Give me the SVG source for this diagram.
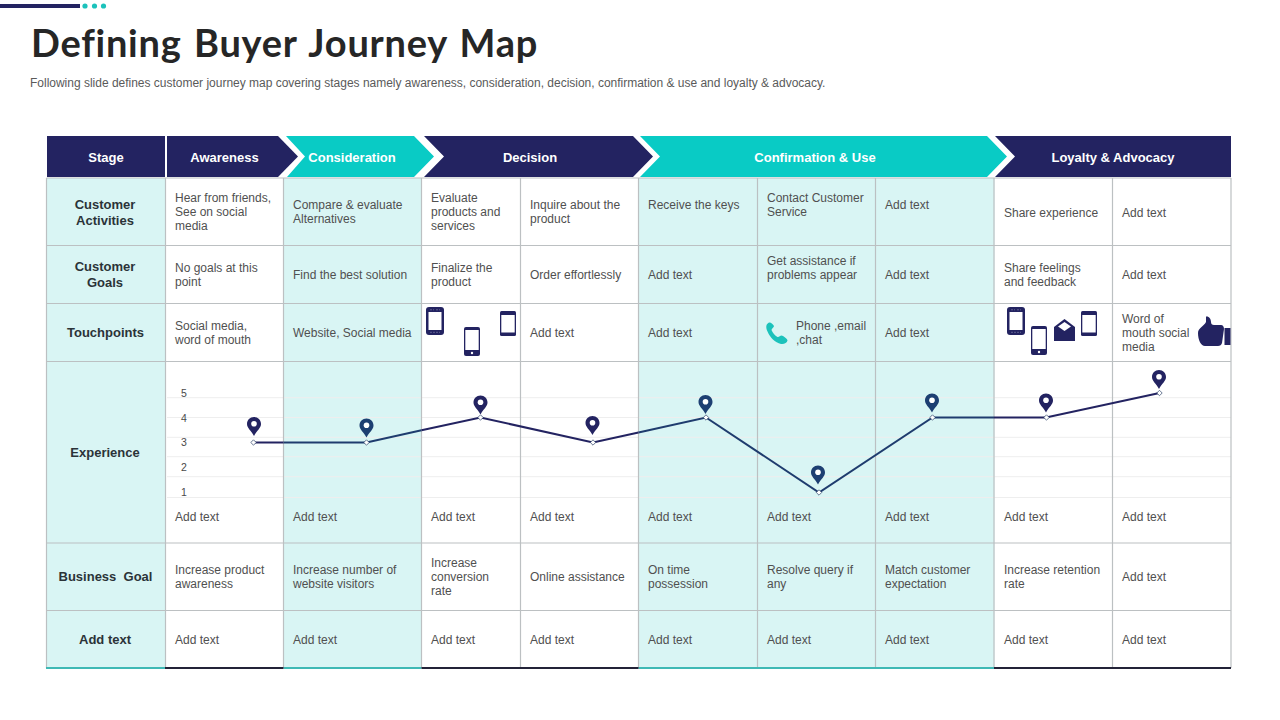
<svg xmlns="http://www.w3.org/2000/svg" width="1280" height="720" viewBox="0 0 1280 720">
<style>
text{font-family:"Liberation Sans",Arial,sans-serif}
.t{font-size:12px;fill:#505050}
.l{font-size:13px;font-weight:bold;fill:#2b3338;text-anchor:middle}
.h{font-size:13px;font-weight:bold;fill:#fff;text-anchor:middle}
.n{font-size:10.5px;fill:#4a4a4a;text-anchor:middle}
.navy{fill:#232361}
.teal{fill:#09cbc5}
.bg{fill:#d9f5f4}
.g{stroke:#bcc0c2;stroke-width:1.2;fill:none}
.gl{stroke:#eeeeee;stroke-width:1;fill:none}
</style>
<defs>
<symbol id="pin" viewBox="0 0 14 19" width="14" height="19" overflow="visible"><path d="M7 0C3 0 0 3 0 7C0 11 4 13.500 7 19C10 13.500 14 11 14 7C14 3 11 0 7 0Z" fill="currentColor"/><circle cx="7" cy="6.800" r="2.800" fill="#fff"/></symbol>
<symbol id="phone1" viewBox="0 0 18 28" width="18" height="28"><rect width="18" height="28" rx="3" fill="#232361"/><rect x="2.500" y="5" width="13" height="18" fill="#fff"/><path d="M4 2.800H8M10 2.800H14M4 25.300H14" stroke="#8a8ab0" stroke-width=".6" stroke-dasharray="2 1"/></symbol>
<symbol id="phone2" viewBox="0 0 16 29" width="16" height="29"><rect width="16" height="29" rx="2" fill="#232361"/><rect x="1.300" y="3" width="13.400" height="20" fill="#fff"/><circle cx="8" cy="26" r="1.200" fill="#fff"/></symbol>
<symbol id="tablet" viewBox="0 0 16 25" width="16" height="25"><rect width="16" height="25" rx="1.500" fill="#232361"/><rect x="1.300" y="4" width="13.400" height="17.500" fill="#fff"/></symbol>
</defs>
<rect width="1280" height="720" fill="#fff"/>
<g id="accent"><rect x="0" y="4" width="80" height="4" class="navy"/><circle cx="85" cy="6" r="2.600" fill="#1cc2bb"/><circle cx="94.500" cy="6" r="2.600" fill="#1cc2bb"/><circle cx="103.500" cy="6" r="2.600" fill="#1cc2bb"/></g>
<g id="title"><text x="31" y="57" style="font-family:'Lato','Liberation Sans',sans-serif;font-size:38px;font-weight:bold;letter-spacing:.75px;word-spacing:2.500px" fill="#262626">Defining Buyer Journey Map</text>
<text x="30" y="87" style="font-size:12px;letter-spacing:-.01px" fill="#5a5a5a">Following slide defines customer journey map covering stages namely awareness, consideration, decision, confirmation &amp; use and loyalty &amp; advocacy.</text></g>

<g id="table-fills">
<rect x="46.500" y="178" width="119" height="490" class="bg"/>
<rect x="283.500" y="178" width="138" height="490" class="bg"/>
<rect x="638.500" y="178" width="356" height="490" class="bg"/>
</g>
<g id="chart-grid">
<path class="gl" d="M167 397.700H1231M167 417.500H1231M167 437.300H1231M167 456.700H1231M167 476.700H1231M167 497.500H1231"/>
</g>
<g id="table-lines">
<path class="g" d="M46.500 178V668M165.500 178V668M283.500 178V668M421.500 178V668M520.500 178V668M638.500 178V668M757.500 178V668M875.500 178V668M994 178V668M1112.500 178V668M1231 178V668"/>
<path class="g" d="M46.500 178H1231M46.500 245.500H1231M46.500 303.500H1231M46.500 361.500H1231M46.500 543H1231M46.500 610.500H1231"/>
<path d="M46 668H165M283.500 668H421.500M638.500 668H994" stroke="#3fb9b5" stroke-width="2" fill="none"/>
<path d="M165 668H283.500M421.500 668H638.500M994 668H1231" stroke="#232338" stroke-width="2" fill="none"/>
</g>

<g id="headers">
<g id="stage-stage"><rect x="47" y="136" width="118" height="41" class="navy"/><text class="h" x="106" y="162">Stage</text></g>
<g id="stage-awareness"><path class="navy" d="M167 136H278L298 156.500L278 177H167Z"/><text class="h" x="224.500" y="162">Awareness</text></g>
<g id="stage-consideration"><path class="teal" d="M286 136H414L434 156.500L414 177H287L305 156.500Z"/><text class="h" x="352" y="162">Consideration</text></g>
<g id="stage-decision"><path class="navy" d="M424 136H633L653 156.500L633 177H424L444 156.500Z"/><text class="h" x="530" y="162">Decision</text></g>
<g id="stage-confirmation"><path class="teal" d="M640 136H987L1007 156.500L987 177H640L660 156.500Z"/><text class="h" x="815" y="162">Confirmation &amp; Use</text></g>
<g id="stage-loyalty"><path class="navy" d="M995 136H1231V177H995L1015 156.500Z"/><text class="h" x="1113" y="162">Loyalty &amp; Advocacy</text></g>
</g>

<g id="row-labels">
<text class="l" x="105" y="209">Customer<tspan x="105" y="225">Activities</tspan></text>
<text class="l" x="105" y="271">Customer<tspan x="105" y="287">Goals</tspan></text>
<text class="l" x="105.500" y="337">Touchpoints</text>
<text class="l" x="105" y="457">Experience</text>
<text class="l" x="105.500" y="581" xml:space="preserve">Business  Goal</text>
<text class="l" x="105" y="644">Add text</text>
</g>

<g id="row-activities">
<text class="t" x="175" y="202">Hear from friends,<tspan x="175" y="216">See on social</tspan><tspan x="175" y="230">media</tspan></text>
<text class="t" x="293" y="209">Compare &amp; evaluate<tspan x="293" y="223">Alternatives</tspan></text>
<text class="t" x="431" y="202">Evaluate<tspan x="431" y="216">products and</tspan><tspan x="431" y="230">services</tspan></text>
<text class="t" x="530" y="209">Inquire about the<tspan x="530" y="223">product</tspan></text>
<text class="t" x="648" y="209">Receive the keys</text>
<text class="t" x="767" y="202">Contact Customer<tspan x="767" y="216">Service</tspan></text>
<text class="t" x="885" y="209">Add text</text>
<text class="t" x="1004" y="217">Share experience</text>
<text class="t" x="1122" y="217">Add text</text>
</g>
<g id="row-goals">
<text class="t" x="175" y="272">No goals at this<tspan x="175" y="286">point</tspan></text>
<text class="t" x="293" y="279">Find the best solution</text>
<text class="t" x="431" y="272">Finalize the<tspan x="431" y="286">product</tspan></text>
<text class="t" x="530" y="279">Order effortlessly</text>
<text class="t" x="648" y="279">Add text</text>
<text class="t" x="767" y="265">Get assistance if<tspan x="767" y="279">problems appear</tspan></text>
<text class="t" x="885" y="279">Add text</text>
<text class="t" x="1004" y="272">Share feelings<tspan x="1004" y="286">and feedback</tspan></text>
<text class="t" x="1122" y="279">Add text</text>
</g>
<g id="row-touchpoints">
<text class="t" x="175" y="330">Social media,<tspan x="175" y="344">word of mouth</tspan></text>
<text class="t" x="293" y="337">Website, Social media</text>
<use href="#phone1" x="426" y="307"/><use href="#phone2" x="464" y="327"/><use href="#tablet" x="500" y="311"/>
<text class="t" x="530" y="337">Add text</text>
<text class="t" x="648" y="337">Add text</text>
<path id="handset" d="M769 322.500C766 324 765.500 327 767.500 331.500C770 337.500 775 342.500 781 344C784 344.500 787 343 787.500 340.500C787.500 339 783 335.500 781.500 335.500C780 335.500 779 337.500 777.500 337C775 336 772.500 332.500 771.500 330C771.500 328.500 774 327.500 774 326C773.500 324.500 770.500 322 769 322.500Z" fill="#1cc2bb"/>
<text class="t" x="796" y="330">Phone ,email<tspan x="796" y="344">,chat</tspan></text>
<text class="t" x="885" y="337">Add text</text>
<use href="#phone1" x="1007" y="307"/><use href="#phone2" x="1031" y="326"/>
<g id="envelope"><path class="navy" d="M1054 327L1064.500 319L1075 327V341H1054Z"/><path fill="#fff" d="M1058 326.500L1064.500 322L1071 326.500L1064.500 331Z"/></g>
<use href="#tablet" x="1081" y="311"/>
<text class="t" x="1122" y="323">Word of<tspan x="1122" y="337">mouth social</tspan><tspan x="1122" y="351">media</tspan></text>
<path id="thumb" class="navy" d="M1206 316.500C1209 316 1211 319 1211 322C1211 324 1212 325 1214 325H1221C1223 325 1224 327 1224 329L1222 343C1221.500 345 1220 346 1218 346H1205C1201 346 1198 340 1198 333C1198 328 1204 326 1206 322Z"/>
<rect class="navy" x="1224.500" y="328" width="6" height="17"/>
</g>
<g id="row-experience">
<text class="n" x="184" y="397">5</text><text class="n" x="184" y="422">4</text><text class="n" x="184" y="446">3</text><text class="n" x="184" y="471">2</text><text class="n" x="184" y="496">1</text>
<text class="t" x="175" y="521">Add text</text><text class="t" x="293" y="521">Add text</text><text class="t" x="431" y="521">Add text</text><text class="t" x="530" y="521">Add text</text><text class="t" x="648" y="521">Add text</text><text class="t" x="767" y="521">Add text</text><text class="t" x="885" y="521">Add text</text><text class="t" x="1004" y="521">Add text</text><text class="t" x="1122" y="521">Add text</text>
</g>
<g id="connectors" fill="none" stroke-width="2">
<path stroke="#232361" d="M253.500 442.500H283.500M421.500 430.300L480.500 417.500L593 442.500L638.500 432.400M994 417.500H1046L1159.500 393"/>
<path stroke="#1f3c6e" d="M283.500 442.500H366.500L421.500 430.300M638.500 432.400L706 417.500L819 492.500L932.500 417.500H994"/>
</g>
<g id="markers" fill="#fff" stroke="#2a3f66" stroke-width=".7">
<path d="M253.500 439.800l2.700 2.700l-2.700 2.700l-2.700-2.700Z"/><path d="M366.500 439.800l2.700 2.700l-2.700 2.700l-2.700-2.700Z"/><path d="M480.500 414.800l2.700 2.700l-2.700 2.700l-2.700-2.700Z"/><path d="M593 439.800l2.700 2.700l-2.700 2.700l-2.700-2.700Z"/><path d="M706 414.800l2.700 2.700l-2.700 2.700l-2.700-2.700Z"/><path d="M819 489.800l2.700 2.700l-2.700 2.700l-2.700-2.700Z"/><path d="M932.500 414.800l2.700 2.700l-2.700 2.700l-2.700-2.700Z"/><path d="M1046.500 414.800l2.700 2.700l-2.700 2.700l-2.700-2.700Z"/><path d="M1159.500 390.300l2.700 2.700l-2.700 2.700l-2.700-2.700Z"/>
</g>
<g id="pins">
<use href="#pin" x="247" y="417" color="#232361"/><use href="#pin" x="359.500" y="418.500" color="#1d3f72"/><use href="#pin" x="473.500" y="395.500" color="#232361"/><use href="#pin" x="585.500" y="416" color="#232361"/><use href="#pin" x="698.500" y="395" color="#1d3f72"/><use href="#pin" x="811" y="465.500" color="#1d3f72"/><use href="#pin" x="925" y="393.500" color="#1d3f72"/><use href="#pin" x="1039" y="393.500" color="#232361"/><use href="#pin" x="1152" y="370" color="#232361"/>
</g>
<g id="row-business">
<text class="t" x="175" y="574">Increase product<tspan x="175" y="588">awareness</tspan></text>
<text class="t" x="293" y="574">Increase number of<tspan x="293" y="588">website visitors</tspan></text>
<text class="t" x="431" y="567">Increase<tspan x="431" y="581">conversion</tspan><tspan x="431" y="595">rate</tspan></text>
<text class="t" x="530" y="581">Online assistance</text>
<text class="t" x="648" y="574">On time<tspan x="648" y="588">possession</tspan></text>
<text class="t" x="767" y="574">Resolve query if<tspan x="767" y="588">any</tspan></text>
<text class="t" x="885" y="574">Match customer<tspan x="885" y="588">expectation</tspan></text>
<text class="t" x="1004" y="574">Increase retention<tspan x="1004" y="588">rate</tspan></text>
<text class="t" x="1122" y="581">Add text</text>
</g>
<g id="row-addtext">
<text class="t" x="175" y="644">Add text</text><text class="t" x="293" y="644">Add text</text><text class="t" x="431" y="644">Add text</text><text class="t" x="530" y="644">Add text</text><text class="t" x="648" y="644">Add text</text><text class="t" x="767" y="644">Add text</text><text class="t" x="885" y="644">Add text</text><text class="t" x="1004" y="644">Add text</text><text class="t" x="1122" y="644">Add text</text>
</g>
</svg>
